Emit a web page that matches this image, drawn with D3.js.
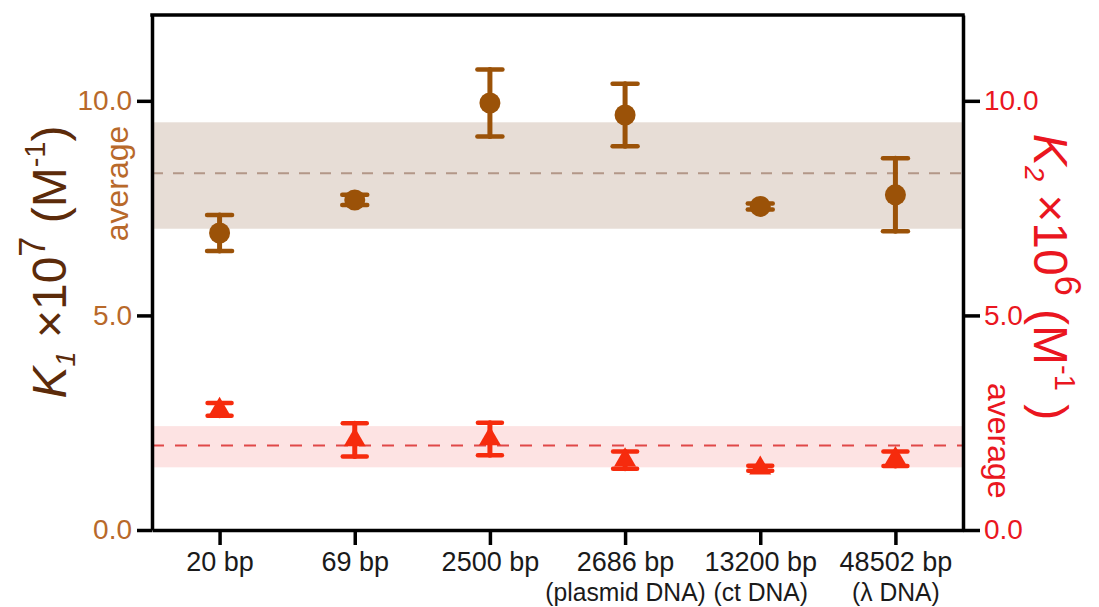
<!DOCTYPE html>
<html>
<head>
<meta charset="utf-8">
<script src="https://cdn.jsdelivr.net/npm/d3@7"></script>
<style>
  html, body { margin: 0; padding: 0; background: #ffffff; }
  svg { display: block; font-family: "Liberation Sans", Arial, sans-serif; }
</style>
</head>
<body>
<svg id="chart" width="1099" height="607"></svg>
<script>
// DNA lengths on the x axis (second line gives the DNA source)
const categories = ["20 bp", "69 bp", "2500 bp", "2686 bp", "13200 bp", "48502 bp"];
const subLabels = ["", "", "", "(plasmid DNA)", "(ct DNA)", "(λ DNA)"];

// K1 (×10^7 M^-1), left axis: means and error half-widths
const k1Values = [6.92, 7.69, 9.95, 9.67, 7.54, 7.81];
const k1Errors = [0.42, 0.12, 0.78, 0.73, 0.07, 0.85];

// K2 (×10^6 M^-1), right axis: means and error half-widths
const k2Values = [2.81, 2.10, 2.12, 1.63, 1.44, 1.66];
const k2Errors = [0.15, 0.39, 0.38, 0.20, 0.06, 0.17];

// Averages and their spread bands
const k1Average = 8.31;
const k1Band = [7.02, 9.50];
const k2Average = 1.97;
const k2Band = [1.46, 2.42];

// Axis ticks
const yTicks = [0, 5, 10];
const yDomain = [0, 12];

const C = {
  k1: "#9b5208",
  k1Tick: "#b8692a",
  k1Title: "#5c2b0a",
  k1BandFill: "#e7ddd6",
  k1Dash: "#b39788",
  k2: "#f62b0d",
  k2Text: "#ea1620",
  k2BandFill: "#fde3e3",
  k2Dash: "#e04848"
};

const svg = d3.select("#chart");
const plotLeft = 152, plotRight = 963, plotTop = 15, plotBottom = 530;

const x = d3.scalePoint().domain(categories).range([plotLeft, plotRight]).padding(0.5);
const yL = d3.scaleLinear().domain(yDomain).range([plotBottom, plotTop]);
const yR = d3.scaleLinear().domain(yDomain).range([plotBottom, plotTop]);

// Average bands
svg.append("rect")
  .attr("x", plotLeft).attr("width", plotRight - plotLeft)
  .attr("y", yL(k1Band[1])).attr("height", yL(k1Band[0]) - yL(k1Band[1]))
  .attr("fill", C.k1BandFill);
svg.append("rect")
  .attr("x", plotLeft).attr("width", plotRight - plotLeft)
  .attr("y", yR(k2Band[1])).attr("height", yR(k2Band[0]) - yR(k2Band[1]))
  .attr("fill", C.k2BandFill);

// Average dashed lines
svg.append("line")
  .attr("x1", plotLeft).attr("x2", plotRight)
  .attr("y1", yL(k1Average)).attr("y2", yL(k1Average))
  .attr("stroke", C.k1Dash).attr("stroke-width", 2).attr("stroke-dasharray", "11,10");
svg.append("line")
  .attr("x1", plotLeft).attr("x2", plotRight)
  .attr("y1", yR(k2Average)).attr("y2", yR(k2Average))
  .attr("stroke", C.k2Dash).attr("stroke-width", 2).attr("stroke-dasharray", "12,11");

// Error bars with caps
function errorBars(values, errors, scale, color, capW) {
  const g = svg.append("g").attr("stroke", color).attr("stroke-linecap", "round");
  categories.forEach((c, i) => {
    const cx = x(c);
    const hi = scale(values[i] + errors[i]);
    const lo = scale(values[i] - errors[i]);
    g.append("line").attr("x1", cx).attr("x2", cx).attr("y1", hi).attr("y2", lo)
      .attr("stroke-width", 5);
    [hi, lo].forEach(yy => {
      g.append("line").attr("x1", cx - capW / 2).attr("x2", cx + capW / 2)
        .attr("y1", yy).attr("y2", yy).attr("stroke-width", 4.5);
    });
  });
}
errorBars(k1Values, k1Errors, yL, C.k1, 25);
errorBars(k2Values, k2Errors, yR, C.k2, 24);

// K1 markers: circles
svg.append("g").selectAll("circle")
  .data(categories)
  .join("circle")
  .attr("cx", d => x(d))
  .attr("cy", (d, i) => yL(k1Values[i]))
  .attr("r", 10.5)
  .attr("fill", C.k1);

// K2 markers: triangles
const tri = d3.symbol().type(d3.symbolTriangle).size(210);
svg.append("g").selectAll("path")
  .data(categories)
  .join("path")
  .attr("d", tri)
  .attr("transform", (d, i) => `translate(${x(d)},${yR(k2Values[i])})`)
  .attr("fill", C.k2);

// Axes
function styleAxis(g, color, size) {
  g.select(".domain").attr("stroke", "#000").attr("stroke-width", 3.5);
  g.selectAll(".tick line").attr("stroke", "#000").attr("stroke-width", 3.5);
  g.selectAll(".tick text").attr("fill", color).style("font-size", size + "px")
    .style("font-family", "'Liberation Sans', Arial, sans-serif");
}

const axL = svg.append("g").attr("transform", `translate(${plotLeft},0)`)
  .call(d3.axisLeft(yL).tickValues(yTicks).tickFormat(d3.format(".1f"))
    .tickSize(15).tickSizeOuter(0).tickPadding(5));
styleAxis(axL, C.k1Tick, 28);

const axR = svg.append("g").attr("transform", `translate(${plotRight},0)`)
  .call(d3.axisRight(yR).tickValues(yTicks).tickFormat(d3.format(".1f"))
    .tickSize(17).tickSizeOuter(0).tickPadding(4));
styleAxis(axR, C.k2Text, 28);

const axB = svg.append("g").attr("transform", `translate(0,${plotBottom})`)
  .call(d3.axisBottom(x).tickSize(15).tickSizeOuter(0).tickPadding(7));
styleAxis(axB, "#1a1a1a", 27);
// Second label line (DNA source), slightly condensed
axB.selectAll(".tick").each(function (d, i) {
  if (!subLabels[i]) return;
  d3.select(this).append("text")
    .attr("transform", "translate(0,71) scale(0.95,1)")
    .attr("text-anchor", "middle")
    .attr("fill", "#1a1a1a")
    .style("font-size", "26px")
    .style("font-family", "'Liberation Sans', Arial, sans-serif")
    .text(subLabels[i]);
});

// Top border of the frame
svg.append("line")
  .attr("x1", plotLeft - 1.75).attr("x2", plotRight + 1.75)
  .attr("y1", plotTop).attr("y2", plotTop)
  .attr("stroke", "#000").attr("stroke-width", 3.5);

// Axis titles
function axisTitle(parts, tx, ty, angle, color) {
  const t = svg.append("text")
    .attr("transform", `translate(${tx},${ty}) rotate(${angle})`)
    .attr("text-anchor", "middle")
    .attr("fill", color)
    .style("font-size", "48px");
  parts.forEach(p => {
    const s = t.append("tspan").text(p.text);
    if (p.size) s.style("font-size", p.size + "px");
    if (p.italic) s.style("font-style", "italic");
    if (p.dy) s.attr("dy", p.dy);
  });
  return t;
}

axisTitle([
  { text: "K", italic: true },
  { text: "1", italic: true, size: 27, dy: 9 },
  { text: " ×10", dy: -9 },
  { text: "7", size: 36, dy: -21 },
  { text: " (M", dy: 21 },
  { text: "-1", size: 29, dy: -21 },
  { text: ")", dy: 21 }
], 66, 262, -90, C.k1Title);

axisTitle([
  { text: "K", italic: true },
  { text: "2", italic: true, size: 27, dy: 9 },
  { text: " ×10", dy: -9 },
  { text: "6", size: 36, dy: -21 },
  { text: " (M", dy: 21 },
  { text: "-1", size: 29, dy: -21 },
  { text: " )", dy: 21 }
], 1034, 277, 90, C.k2Text);

// "average" labels beside each band
svg.append("text")
  .attr("transform", `translate(128,${(yL(k1Band[0]) + yL(k1Band[1])) / 2 + 8}) rotate(-90)`)
  .attr("text-anchor", "middle")
  .attr("fill", C.k1Tick)
  .style("font-size", "32px")
  .text("average");

svg.append("text")
  .attr("transform", `translate(988,${(yR(k2Band[0]) + yR(k2Band[1])) / 2 - 6}) rotate(90)`)
  .attr("text-anchor", "middle")
  .attr("fill", C.k2Text)
  .style("font-size", "32px")
  .text("average");
</script>
</body>
</html>
